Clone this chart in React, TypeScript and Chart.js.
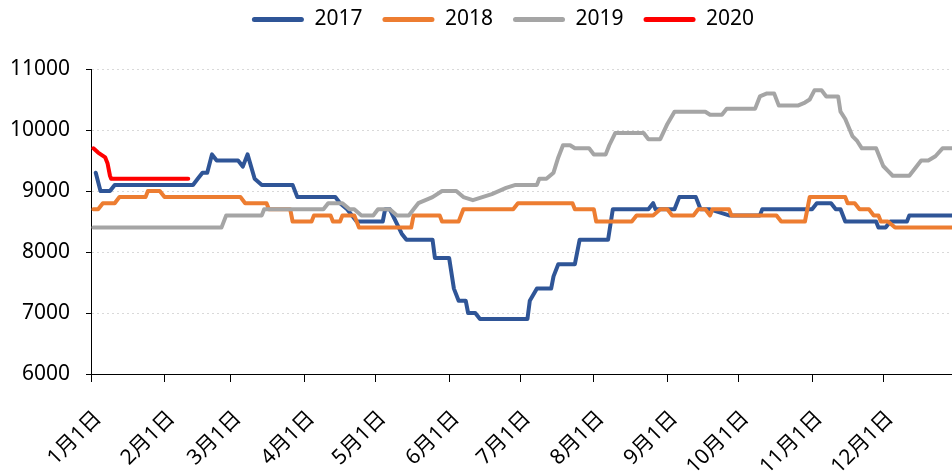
import React, { useEffect, useRef } from 'react';
import { Chart, registerables } from 'chart.js';

Chart.register(...registerables);

const FONT = "'Noto Sans', 'Noto Sans CJK SC', sans-serif";

// x: day of year (0 = 1月1日)
const monthTickDays = [0, 31, 59, 90, 120, 151, 181, 212, 243, 273, 304, 334];
const monthLabels = ['1月1日', '2月1日', '3月1日', '4月1日', '5月1日', '6月1日', '7月1日', '8月1日', '9月1日', '10月1日', '11月1日', '12月1日'];

const seriesNames = ['2017', '2018', '2019', '2020'];
const seriesColors = ['#2F5597', '#ED7D31', '#A5A5A5', '#FF0000'];

const days2017 = [2, 4, 8, 10, 43, 45, 47, 49, 51, 53, 62, 64, 66, 69, 72, 85, 87, 103, 105, 108, 112, 123, 124, 126, 131, 133, 144, 145, 151, 153, 155, 158, 159, 162, 164, 184, 185, 188, 194, 195, 197, 204, 206, 218, 220, 235, 237, 238, 246, 248, 255, 257, 261, 269, 282, 283, 304, 306, 312, 314, 316, 318, 331, 332, 335, 337, 344, 345, 363];
const vals2017 = [9300, 9000, 9000, 9100, 9100, 9200, 9300, 9300, 9600, 9500, 9500, 9400, 9600, 9200, 9100, 9100, 8900, 8900, 8800, 8700, 8500, 8500, 8700, 8700, 8300, 8200, 8200, 7900, 7900, 7400, 7200, 7200, 7000, 7000, 6900, 6900, 7200, 7400, 7400, 7600, 7800, 7800, 8200, 8200, 8700, 8700, 8800, 8700, 8700, 8900, 8900, 8700, 8700, 8600, 8600, 8700, 8700, 8800, 8800, 8700, 8700, 8500, 8500, 8400, 8400, 8500, 8500, 8600, 8600];

const days2018 = [1, 3, 5, 10, 12, 23, 24, 29, 31, 63, 65, 74, 75, 84, 85, 93, 94, 101, 102, 105, 106, 111, 113, 135, 136, 147, 148, 155, 157, 178, 180, 203, 204, 212, 213, 228, 230, 237, 240, 243, 245, 254, 256, 259, 261, 262, 269, 270, 289, 291, 301, 303, 318, 319, 322, 324, 328, 330, 332, 333, 336, 339, 363];
const vals2018 = [8700, 8700, 8800, 8800, 8900, 8900, 9000, 9000, 8900, 8900, 8800, 8800, 8700, 8700, 8500, 8500, 8600, 8600, 8500, 8500, 8600, 8600, 8400, 8400, 8600, 8600, 8500, 8500, 8700, 8700, 8800, 8800, 8700, 8700, 8500, 8500, 8600, 8600, 8700, 8700, 8600, 8600, 8700, 8700, 8600, 8700, 8700, 8600, 8600, 8500, 8500, 8900, 8900, 8800, 8800, 8700, 8700, 8600, 8600, 8500, 8500, 8400, 8400];

const days2019 = [1, 55, 57, 72, 73, 98, 100, 106, 109, 111, 114, 119, 121, 126, 129, 134, 136, 138, 141, 144, 148, 154, 157, 161, 165, 169, 175, 179, 188, 189, 192, 195, 197, 199, 202, 204, 210, 212, 217, 218.5, 221, 233, 235, 240, 243, 246, 259, 261, 266, 268, 280, 282, 285, 288, 290, 298, 301, 303, 305, 308, 310, 315, 316, 318, 321, 323, 325, 331, 334, 336, 338, 345, 350, 353, 356, 359, 363];
const vals2019 = [8400, 8400, 8600, 8600, 8700, 8700, 8800, 8800, 8700, 8700, 8600, 8600, 8700, 8700, 8600, 8600, 8700, 8800, 8850, 8900, 9000, 9000, 8900, 8850, 8900, 8950, 9050, 9100, 9100, 9200, 9200, 9300, 9550, 9750, 9750, 9700, 9700, 9600, 9600, 9750, 9950, 9950, 9850, 9850, 10100, 10300, 10300, 10250, 10250, 10350, 10350, 10550, 10600, 10600, 10400, 10400, 10450, 10500, 10650, 10650, 10550, 10550, 10300, 10180, 9900, 9820, 9700, 9700, 9410, 9330, 9250, 9250, 9500, 9500, 9570, 9700, 9700];

const days2020 = [1, 3, 6, 7, 8, 8.5, 41];
const vals2020 = [9700, 9630, 9550, 9450, 9250, 9200, 9200];

const seriesDays = [days2017, days2018, days2019, days2020];
const seriesVals = [vals2017, vals2018, vals2019, vals2020];

const Y_MIN = 6000;
const Y_MAX = 11000;
const Y_STEP = 1000;
const X_MIN = 0;
const X_MAX = 363;

const legendSizer = {
  id: 'legendSizer',
  beforeLayout(chart: any) {
    const legend = chart.legend;
    if (!legend || legend.__patched) return;
    const origFit = legend.fit;
    legend.fit = function () {
      origFit.call(this);
      this.height = 80;
    };
    legend.__patched = true;
  },
  afterLayout(chart: any) {
    const legend = chart.legend;
    if (!legend) return;
    legend.left += 27;
    legend.right += 27;
  },
};

export default function App() {
  const ref = useRef<HTMLCanvasElement>(null);

  useEffect(() => {
    document.body.style.margin = '0';
    const canvas = ref.current;
    if (!canvas) return;
    const datasets = seriesNames.map((name, s) => ({
      label: name,
      data: seriesDays[s].map((d, i) => ({ x: d, y: seriesVals[s][i] })),
      borderColor: seriesColors[s],
      backgroundColor: seriesColors[s],
      borderWidth: 4,
      pointRadius: 0,
      tension: 0,
      fill: false,
      borderJoinStyle: 'round' as const,
      borderCapStyle: 'round' as const,
      order: seriesNames.length - s,
    }));

    const chart = new Chart(canvas, {
      type: 'line',
      data: { datasets },
      plugins: [legendSizer],
      options: {
        animation: false,
        responsive: false,
        events: [],
        layout: { padding: { top: -11, left: 0, right: 0, bottom: 0 } },
        plugins: {
          tooltip: { enabled: false },
          legend: {
            display: true,
            position: 'top',
            labels: {
              color: '#000',
              font: { family: FONT, size: 21 },
              boxWidth: 52,
              boxHeight: 5,
              padding: 20,
              useBorderRadius: true,
              borderRadius: 2.5,
              sort: (a: any, b: any) => a.datasetIndex - b.datasetIndex,
              generateLabels: (c: any) =>
                (Chart.defaults.plugins.legend.labels as any).generateLabels(c).map((l: any) => ({ ...l, lineWidth: 0 })),
            },
          },
        },
        scales: {
          x: {
            type: 'linear',
            min: X_MIN,
            max: X_MAX,
            afterBuildTicks: (axis: any) => {
              axis.ticks = monthTickDays.map((v) => ({ value: v }));
            },
            afterFit: (axis: any) => {
              axis.height = 101;
            },
            ticks: {
              autoSkip: false,
              minRotation: 45,
              maxRotation: 45,
              padding: 24,
              labelOffset: 7,
              color: '#000',
              font: { family: FONT, size: 21 },
              callback: (_v: any, i: number) => monthLabels[i],
            },
            grid: {
              display: true,
              drawOnChartArea: false,
              drawTicks: true,
              tickLength: 8,
              color: '#000',
              tickColor: '#000',
            },
            border: { display: true, color: '#000', width: 1 },
          },
          y: {
            min: Y_MIN,
            max: Y_MAX,
            afterFit: (axis: any) => {
              axis.width = 91;
            },
            ticks: {
              stepSize: Y_STEP,
              padding: 16,
              color: '#000',
              font: { family: FONT, size: 21 },
              callback: (v: any) => String(v),
            },
            grid: {
              display: true,
              drawOnChartArea: true,
              drawTicks: true,
              tickLength: 5,
              color: '#D9D9D9',
              tickColor: '#000',
              tickBorderDash: [],
            },
            border: { display: true, color: '#000', width: 1, dash: [2, 3] },
          },
        },
      },
    } as any);
    return () => chart.destroy();
  }, []);

  return (
    <div style={{ width: 952, height: 475 }}>
      <canvas ref={ref} width={952} height={475} style={{ display: 'block' }} />
    </div>
  );
}
